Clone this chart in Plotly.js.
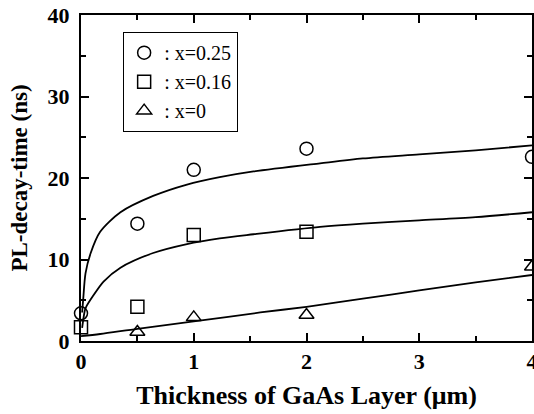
<!DOCTYPE html>
<html>
<head>
<meta charset="utf-8">
<script src="https://cdn.plot.ly/plotly-3.0.1.min.js"></script>
<style>html,body{margin:0;padding:0;background:#fff;}#chart{width:534px;height:414px;}</style>
</head>
<body>
<div id="chart"></div>
<script>
// Measured points
const circX = [0, 0.5, 1, 2, 4];
const circY = [3.4, 14.4, 21.0, 23.6, 22.6];
const sqX = [0, 0.5, 1, 2];
const sqY = [1.7, 4.2, 13.0, 13.4];
const triX = [0.5, 1, 2, 4];
const triY = [1.1, 2.9, 3.2, 9.1];

// Fitted curves
const circFitX = [0.01, 0.02, 0.04, 0.086, 0.17, 0.35, 0.64, 0.94, 1.23, 1.53, 2.12, 2.5, 3, 3.5, 4];
const circFitY = [3.5, 5.2, 8.3, 10.8, 13.4, 15.8, 17.8, 19.2, 20.1, 20.8, 21.8, 22.4, 22.9, 23.4, 24.0];
const sqFitX = [0.01, 0.035, 0.05, 0.1, 0.2, 0.35, 0.64, 0.94, 1.23, 1.53, 2.12, 2.5, 3, 3.5, 4];
const sqFitY = [1.6, 3.8, 4.3, 5.4, 7.3, 9.0, 10.8, 11.9, 12.6, 13.1, 14.0, 14.4, 14.8, 15.2, 15.8];
const triFitX = [0, 0.17, 0.5, 1, 1.59, 2, 2.5, 3, 3.5, 4];
const triFitY = [0.6, 0.86, 1.5, 2.4, 3.5, 4.2, 5.2, 6.2, 7.2, 8.1];

const legendNames = [': x=0.25', ': x=0.16', ': x=0'];
const xTitle = 'Thickness of GaAs Layer (μm)';
const yTitle = 'PL-decay-time (ns)';

const fitLine = {color: '#000', width: 1.8, shape: 'spline', smoothing: 0.8};
const mk = (sym) => ({symbol: sym, size: 13, color: '#000', line: {color: '#000', width: 1.5}});

const traces = [
  {x: circFitX, y: circFitY, mode: 'lines', line: fitLine, showlegend: false, cliponaxis: true},
  {x: sqFitX, y: sqFitY, mode: 'lines', line: fitLine, showlegend: false, cliponaxis: true},
  {x: triFitX, y: triFitY, mode: 'lines', line: fitLine, showlegend: false, cliponaxis: true},
  {x: circX, y: circY, mode: 'markers', name: legendNames[0], marker: mk('circle-open'), cliponaxis: false},
  {x: sqX, y: sqY, mode: 'markers', name: legendNames[1], marker: mk('square-open'), cliponaxis: false},
  {x: triX, y: triY, mode: 'markers', name: legendNames[2], marker: mk('triangle-up-open'), cliponaxis: false}
];

const serifBold = {family: 'Liberation Serif, Times New Roman, serif', size: 22, color: '#000', weight: 700};

const axisCommon = {
  showline: true, linewidth: 2, linecolor: '#000', mirror: 'allticks',
  ticks: 'inside', ticklen: 8, tickwidth: 2, tickcolor: '#000',
  showgrid: false, zeroline: false, tickfont: serifBold, ticklabeloverflow: 'allow'
};

const layout = {
  width: 534, height: 414,
  margin: {l: 81, r: 2, t: 15, b: 73},
  paper_bgcolor: '#fff', plot_bgcolor: '#fff',
  xaxis: Object.assign({}, axisCommon, {
    range: [0, 4], dtick: 1, tick0: 0,
    minor: {dtick: 0.5, ticks: 'inside', ticklen: 5, tickwidth: 2, tickcolor: '#000'},
    title: {text: xTitle, font: {family: 'Liberation Serif, serif', size: 26, color: '#000', weight: 700}, standoff: 12}
  }),
  yaxis: Object.assign({}, axisCommon, {
    range: [0, 40], dtick: 10, tick0: 0, ticklabelstandoff: 5,
    minor: {dtick: 5, ticks: 'inside', ticklen: 5, tickwidth: 2, tickcolor: '#000'},
    title: {text: yTitle, font: {family: 'Liberation Serif, serif', size: 23, color: '#000', weight: 700}, standoff: 14}
  }),
  showlegend: true,
  legend: {
    x: 0.093, y: 0.948, xanchor: 'left', yanchor: 'top',
    bgcolor: '#fff', bordercolor: '#000', borderwidth: 1.2,
    font: {family: 'Liberation Serif, serif', size: 20, color: '#000'},
    itemwidth: 30
  }
};

Plotly.newPlot('chart', traces, layout, {staticPlot: true, displayModeBar: false});
</script>
</body>
</html>
